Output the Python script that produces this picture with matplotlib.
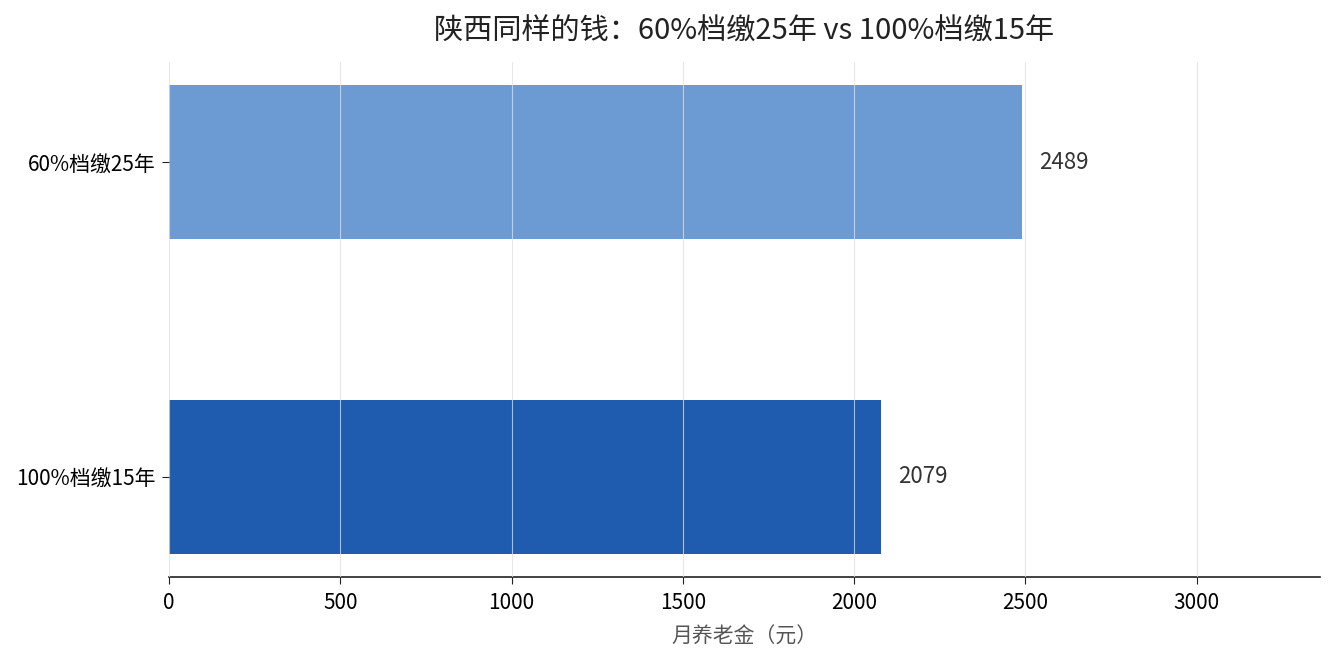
import matplotlib
matplotlib.use("Agg")
import matplotlib.pyplot as plt

plt.rcParams['font.family'] = ['Noto Sans CJK SC', 'DejaVu Sans']

categories = ["100%档缴15年", "60%档缴25年"]
values = [2079, 2489]
colors = ["#1F5CAF", "#6C9BD3"]
title = "陕西同样的钱：60%档缴25年 vs 100%档缴15年"
xlabel = "月养老金（元）"

fig = plt.figure(figsize=(13.35, 6.6), dpi=100)
ax = fig.add_axes([0.1266, 0.1258, 0.8622, 0.7802])

bars = ax.barh(categories, values, height=0.49, color=colors, zorder=1)
ax.set_xlim(0, max(values) * 1.35)
ax.grid(axis='x', color='#e0e0e0', alpha=0.75, linewidth=0.8, zorder=2)
ax.set_axisbelow(False)

for b, v in zip(bars, values):
    ax.text(b.get_width() + max(values) * 0.02, b.get_y() + b.get_height() / 2,
            f"{v}", va='center', ha='left', fontsize=16, color='#333333')

for s in ['top', 'right', 'left']:
    ax.spines[s].set_visible(False)
ax.spines['bottom'].set_color('#222222')
ax.spines['bottom'].set_linewidth(1.2)
ax.tick_params(axis='both', labelsize=15, colors='#222222', labelcolor='black')
ax.tick_params(axis='y', length=5, pad=4.5)
ax.tick_params(axis='x', length=5, pad=6)
ax.set_xlabel(xlabel, fontsize=15, color='#555555', labelpad=8)
ax.set_title(title, fontsize=21, color='#222222', pad=16)

fig.savefig("out.png", dpi=100)
